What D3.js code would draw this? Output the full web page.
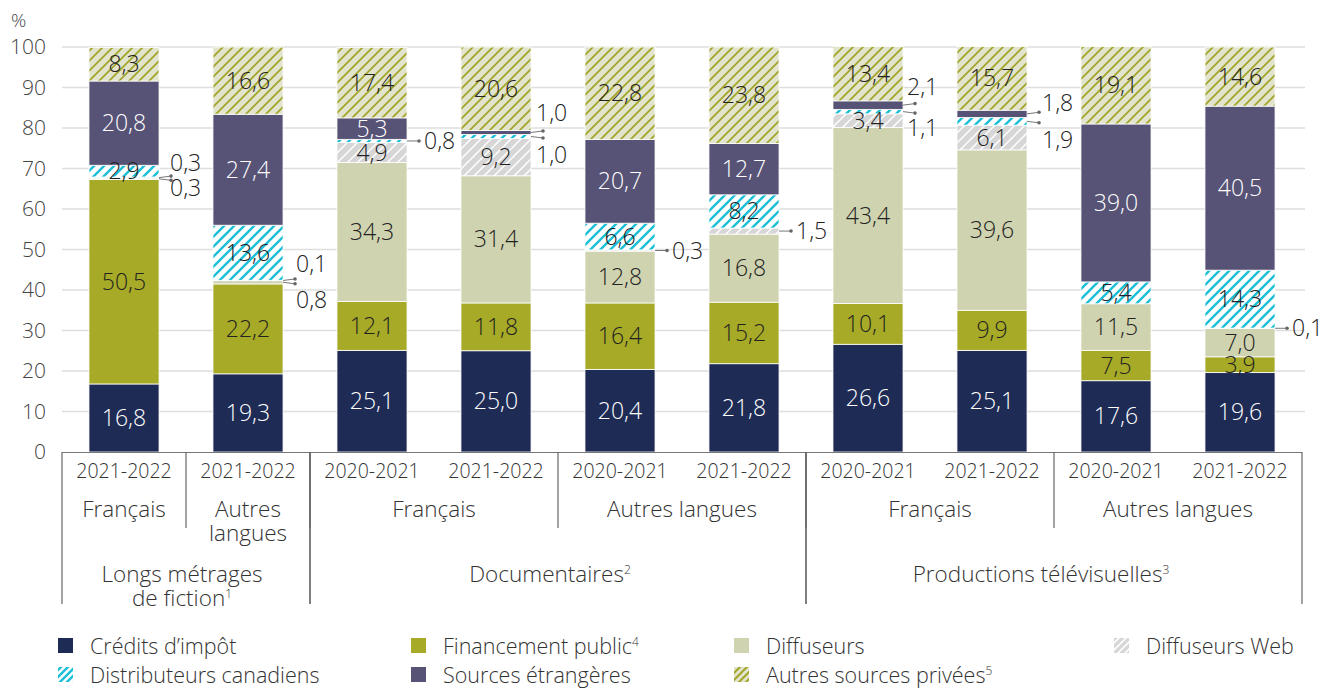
<!DOCTYPE html>
<html>
<head>
<meta charset="utf-8">
<script src="https://cdn.jsdelivr.net/npm/d3@7"></script>
<style>
  body { margin: 0; background: #fff; }
  svg { display: block; font-family: "Open Sans", "Noto Sans", sans-serif; font-weight: 300; }
</style>
</head>
<body>
<svg id="chart" width="1327" height="689"></svg>
<script>
// data (percent of financing)
var years = ["2021-2022", "2021-2022", "2020-2021", "2021-2022", "2020-2021",
             "2021-2022", "2020-2021", "2021-2022", "2020-2021", "2021-2022"];
var languages = [
  { lines: ["Français"], from: 0, to: 0 },
  { lines: ["Autres", "langues"], from: 1, to: 1 },
  { lines: ["Français"], from: 2, to: 3 },
  { lines: ["Autres langues"], from: 4, to: 5 },
  { lines: ["Français"], from: 6, to: 7 },
  { lines: ["Autres langues"], from: 8, to: 9 }
];
var types = [
  { lines: ["Longs métrages", "de fiction"], sup: "1", from: 0, to: 1 },
  { lines: ["Documentaires"], sup: "2", from: 2, to: 5 },
  { lines: ["Productions télévisuelles"], sup: "3", from: 6, to: 9 }
];

var seriesNames = ["Crédits d’impôt", "Financement public", "Diffuseurs", "Diffuseurs Web",
                   "Distributeurs canadiens", "Sources étrangères", "Autres sources privées"];
var seriesSup = ["", "4", "", "", "", "", "5"];

var creditsImpot      = [16.8, 19.3, 25.1, 25.0, 20.4, 21.8, 26.6, 25.1, 17.6, 19.6];
var financementPublic = [50.5, 22.2, 12.1, 11.8, 16.4, 15.2, 10.1,  9.9,  7.5,  3.9];
var diffuseurs        = [ 0.3,  0.8, 34.3, 31.4, 12.8, 16.8, 43.4, 39.6, 11.5,  7.0];
var diffuseursWeb     = [ 0.3,  0.1,  4.9,  9.2,  0.3,  1.5,  3.4,  6.1,  0.0,  0.1];
var distributeurs     = [ 2.9, 13.6,  0.8,  1.0,  6.6,  8.2,  1.1,  1.9,  5.4, 14.3];
var sourcesEtrangeres = [20.8, 27.4,  5.3,  1.0, 20.7, 12.7,  2.1,  1.8, 39.0, 40.5];
var autresPrivees     = [ 8.3, 16.6, 17.4, 20.6, 22.8, 23.8, 13.4, 15.7, 19.1, 14.6];

var yTicks = [0, 10, 20, 30, 40, 50, 60, 70, 80, 90, 100];

var seriesValues = [creditsImpot, financementPublic, diffuseurs, diffuseursWeb,
                    distributeurs, sourcesEtrangeres, autresPrivees];

// label placement for the thin segments (bar index - series index)
var callouts = {
  "0-2": { dx: 11, dy: 9 },  "0-3": { dx: 11, dy: -15 },
  "1-2": { dx: 13, dy: 18 }, "1-3": { dx: 13, dy: -17 },
  "2-4": { dx: 17, dy: 0 },
  "3-4": { dx: 5, dy: 18 },  "3-5": { dx: 5, dy: -20 },
  "4-3": { dx: 17, dy: 0 },
  "5-3": { dx: 17, dy: 0 },
  "6-4": { dx: 4, dy: 16 },  "6-5": { dx: 4, dy: -18 },
  "7-4": { dx: 15, dy: 19 }, "7-5": { dx: 15, dy: -11 },
  "9-3": { dx: 17, dy: 0 }
};
// small horizontal nudges of the group titles
var typeShift = [-4, -8, -13];

var svg = d3.select("#chart");
var defs = svg.append("defs");

function hatch(id, bg, fg, sw, size) {
  var s = size, h = s / 4;
  var p = defs.append("pattern")
    .attr("id", id)
    .attr("patternUnits", "userSpaceOnUse")
    .attr("width", s).attr("height", s);
  p.append("rect").attr("width", s).attr("height", s).attr("fill", bg);
  p.append("path")
    .attr("d", "M" + (-h) + "," + h + " L" + h + "," + (-h) +
               " M0," + s + " L" + s + ",0" +
               " M" + (s - h) + "," + (s + h) + " L" + (s + h) + "," + (s - h))
    .attr("stroke", fg).attr("stroke-width", sw);
}
hatch("hWeb", "#d6d6d6", "#ffffff", 1.5, 10);
hatch("hDist", "#ffffff", "#1bbfd6", 2.4, 10);
hatch("hAutres", "#e3e4cd", "#a2a62a", 1.8, 10);
// denser versions for the legend swatches
hatch("lWeb", "#d6d6d6", "#ffffff", 1.6, 7);
hatch("lDist", "#ffffff", "#1bbfd6", 2.4, 7);
hatch("lAutres", "#e3e4cd", "#a2a62a", 2, 7);

var fills = ["#1e2b55", "#a7aa27", "#d0d3af", "url(#hWeb)", "url(#hDist)", "#575376", "url(#hAutres)"];
var legendFills = ["#1e2b55", "#a7aa27", "#d0d3af", "url(#lWeb)", "url(#lDist)", "#575376", "url(#lAutres)"];
var textColors = ["#fff", "#222", "#222", "#222", "#222", "#fff", "#222"];

var x = d3.scaleBand()
  .domain(d3.range(years.length))
  .range([62, 1302])
  .paddingInner(0.435)
  .paddingOuter(0.2175);

var y = d3.scaleLinear().domain([0, 100]).range([452, 47]);

var fmt = function(v) { return d3.format(".1f")(v).replace(".", ","); };

// gridlines + y labels
svg.append("g").selectAll("line")
  .data(yTicks.filter(function(d) { return d > 0; }))
  .enter().append("line")
  .attr("x1", 62).attr("x2", 1305)
  .attr("y1", function(d) { return y(d); })
  .attr("y2", function(d) { return y(d); })
  .attr("stroke", "#dedede").attr("stroke-width", 1.3);

svg.append("g").selectAll("text")
  .data(yTicks)
  .enter().append("text")
  .attr("x", 46)
  .attr("y", function(d) { return y(d); })
  .attr("dy", "0.35em")
  .attr("text-anchor", "end")
  .attr("font-size", 21)
  .attr("fill", "#444")
  .text(function(d) { return d; });

svg.append("text").attr("x", 11).attr("y", 27)
  .attr("font-size", 19).attr("fill", "#444").text("%");

// stack
var rows = years.map(function(_, i) {
  var r = {};
  seriesValues.forEach(function(s, k) { r[k] = s[i]; });
  return r;
});
var stack = d3.stack().keys(d3.range(seriesValues.length))(rows);

var bars = svg.append("g");
stack.forEach(function(layer, k) {
  bars.append("g").selectAll("rect")
    .data(layer)
    .enter().append("rect")
    .attr("x", function(d, i) { return x(i); })
    .attr("width", x.bandwidth())
    .attr("y", function(d) { return y(d[1]); })
    .attr("height", function(d) { return Math.max(0, y(d[0]) - y(d[1])); })
    .attr("fill", fills[k])
    .attr("stroke", "#fff")
    .attr("stroke-width", 0.8);
});

// value labels
var labels = svg.append("g").attr("font-size", 23);
stack.forEach(function(layer, k) {
  layer.forEach(function(d, i) {
    var v = seriesValues[k][i];
    if (v <= 0) return;
    var yc = y((d[0] + d[1]) / 2);
    var key = i + "-" + k;
    if (v >= 2.5) {
      labels.append("text")
        .attr("x", x(i) + x.bandwidth() / 2)
        .attr("y", yc)
        .attr("dy", "0.35em")
        .attr("text-anchor", "middle")
        .attr("fill", textColors[k])
        .text(fmt(v));
    } else if (callouts[key]) {
      var c = callouts[key];
      var edge = x(i) + x.bandwidth();
      var tilt = c.dy < 0 ? -1.5 : (c.dy > 0 ? 1.5 : 0);
      labels.append("line")
        .attr("x1", edge).attr("x2", edge + 12)
        .attr("y1", yc).attr("y2", yc + tilt)
        .attr("stroke", "#777").attr("stroke-width", 1);
      labels.append("circle")
        .attr("cx", edge + 12).attr("cy", yc + tilt).attr("r", 1.8)
        .attr("fill", "#666");
      labels.append("text")
        .attr("x", edge + c.dx)
        .attr("y", yc + c.dy)
        .attr("dy", "0.35em")
        .attr("fill", "#222")
        .text(fmt(v));
    }
  });
});

// category axis
var axis = svg.append("g").attr("fill", "#333");
var stepW = x.step();
function leftOf(i) { return x(i) - (stepW - x.bandwidth()) / 2; }
function rightOf(i) { return x(i) + x.bandwidth() + (stepW - x.bandwidth()) / 2; }

axis.append("line")
  .attr("x1", leftOf(0)).attr("x2", rightOf(years.length - 1))
  .attr("y1", 452.5).attr("y2", 452.5)
  .attr("stroke", "#777").attr("stroke-width", 1.2);

axis.selectAll("text.year")
  .data(years)
  .enter().append("text")
  .attr("class", "year")
  .attr("x", function(d, i) { return x(i) + x.bandwidth() / 2; })
  .attr("y", 478)
  .attr("font-size", 19.5)
  .attr("text-anchor", "middle")
  .text(function(d) { return d; });

languages.forEach(function(g) {
  var cx = (leftOf(g.from) + rightOf(g.to)) / 2;
  g.lines.forEach(function(t, j) {
    axis.append("text").attr("x", cx).attr("y", 517 + j * 24)
      .attr("font-size", 22.5)
      .attr("text-anchor", "middle").text(t);
  });
  if (g.from > 0) {
    axis.append("line")
      .attr("x1", leftOf(g.from)).attr("x2", leftOf(g.from))
      .attr("y1", 452).attr("y2", 528)
      .attr("stroke", "#666").attr("stroke-width", 1.2);
  }
});

types.forEach(function(g, n) {
  var cx = (leftOf(g.from) + rightOf(g.to)) / 2 + typeShift[n];
  g.lines.forEach(function(t, j) {
    var tx = axis.append("text").attr("x", cx).attr("y", 582 + j * 24)
      .attr("font-size", 22.5)
      .attr("text-anchor", "middle");
    tx.append("tspan").text(t);
    if (j === g.lines.length - 1) {
      tx.append("tspan").attr("font-size", 12).attr("dy", -8).text(g.sup);
    }
  });
  [leftOf(g.from), rightOf(g.to)].forEach(function(lx) {
    axis.append("line")
      .attr("x1", lx).attr("x2", lx)
      .attr("y1", 452).attr("y2", 604)
      .attr("stroke", "#666").attr("stroke-width", 1.2);
  });
});

// legend
var legendPos = [
  [58, 646], [411, 646], [734, 646], [1114, 646],
  [58, 675], [411, 675], [734, 675]
];
var legend = svg.append("g").attr("font-size", 21.5).attr("fill", "#333");
seriesNames.forEach(function(name, k) {
  var p = legendPos[k];
  legend.append("rect")
    .attr("x", p[0]).attr("y", p[1] - 8)
    .attr("width", 15).attr("height", 15)
    .attr("fill", legendFills[k]);
  var t = legend.append("text").attr("x", p[0] + 32).attr("y", p[1]).attr("dy", "0.35em");
  t.append("tspan").text(name);
  if (seriesSup[k]) t.append("tspan").attr("font-size", 12).attr("dy", -8).text(seriesSup[k]);
});
</script>
</body>
</html>
